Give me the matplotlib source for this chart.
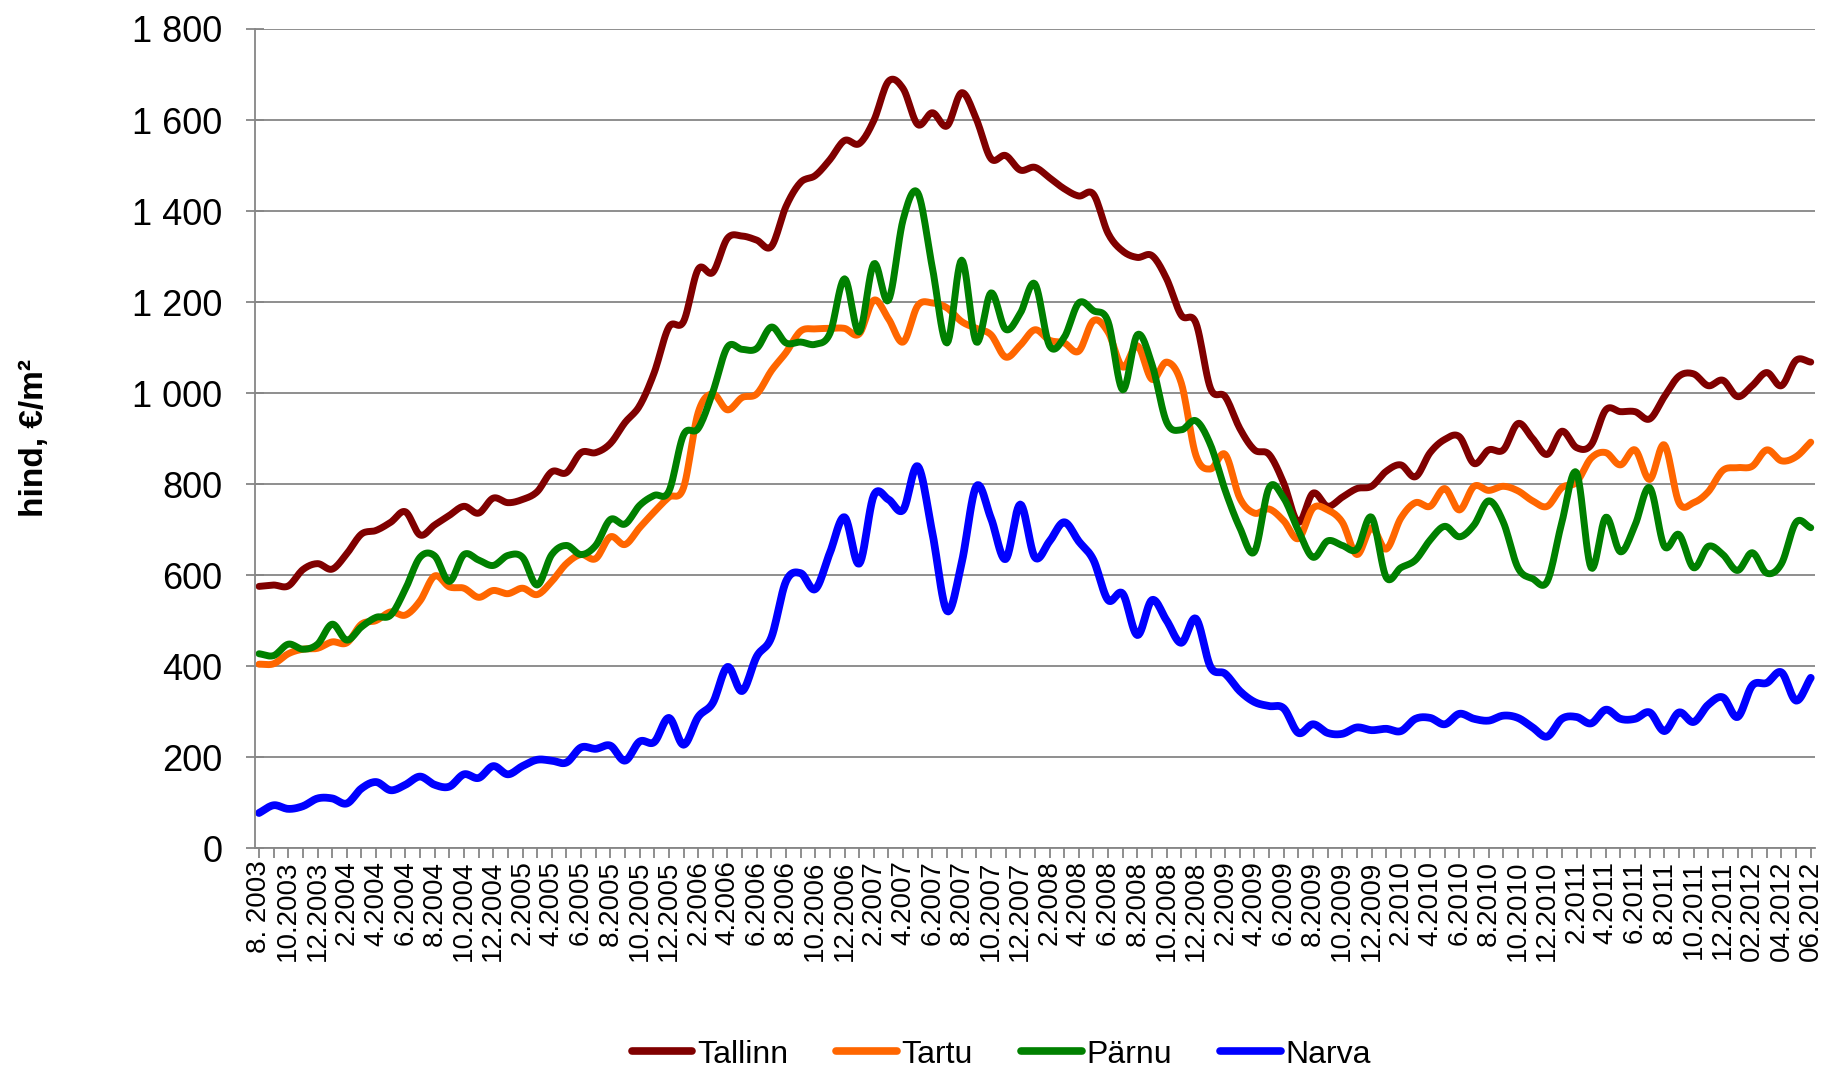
import numpy as np
import matplotlib
matplotlib.use("Agg")
import matplotlib.pyplot as plt

plt.rcParams['font.family'] = ['Liberation Sans', 'DejaVu Sans']

# kuu keskmised hinnad, 8.2003 - 06.2012
tallinn = [575, 578, 576, 612, 625, 613, 647, 690, 698, 716,
           739, 688, 710, 731, 751, 736, 769, 759, 766, 783,
           827, 825, 869, 869, 889, 935, 972, 1045, 1145, 1157,
           1272, 1265, 1340, 1345, 1336, 1322, 1410, 1463, 1478, 1513,
           1555, 1548, 1599, 1685, 1669, 1590, 1616, 1587, 1660, 1602,
           1515, 1522, 1490, 1496, 1473, 1449, 1433, 1437, 1351, 1312,
           1298, 1302, 1251, 1171, 1154, 1010, 992, 922, 875, 865,
           802, 716, 780, 751, 771, 790, 795, 828, 842, 816,
           869, 898, 904, 845, 875, 875, 933, 900, 865, 916,
           880, 886, 963, 959, 959, 943, 992, 1037, 1042, 1016,
           1028, 992, 1016, 1045, 1016, 1072, 1068]
tartu = [404, 405, 427, 437, 439, 453, 451, 492, 500, 519,
         512, 543, 598, 574, 571, 551, 566, 559, 571, 557,
         586, 625, 645, 636, 684, 667, 704, 739, 771, 792,
         957, 998, 963, 990, 998, 1049, 1089, 1136, 1141, 1142,
         1142, 1130, 1204, 1163, 1112, 1192, 1198, 1187, 1157, 1142,
         1128, 1079, 1105, 1139, 1116, 1110, 1092, 1159, 1134, 1057,
         1104, 1030, 1068, 1022, 863, 833, 865, 769, 736, 745,
         719, 680, 747, 743, 716, 645, 704, 657, 725, 759,
         751, 790, 743, 795, 786, 795, 785, 763, 751, 792,
         804, 857, 869, 842, 875, 810, 886, 759, 759, 783,
         830, 836, 839, 875, 851, 860, 892]
parnu = [427, 423, 448, 437, 448, 492, 457, 486, 507, 512,
         569, 639, 642, 586, 645, 633, 621, 643, 639, 578,
         645, 665, 645, 665, 722, 712, 753, 775, 784, 908,
         922, 1002, 1101, 1096, 1098, 1145, 1110, 1112, 1107, 1131,
         1251, 1134, 1284, 1204, 1381, 1440, 1275, 1110, 1292, 1112,
         1220, 1140, 1175, 1240, 1104, 1122, 1198, 1181, 1157, 1007,
         1128, 1063, 936, 919, 939, 886, 786, 704, 651, 792,
         769, 698, 639, 675, 665, 657, 727, 595, 616, 633,
         677, 707, 684, 710, 763, 716, 616, 592, 586, 716,
         825, 616, 727, 651, 710, 792, 663, 689, 616, 663,
         645, 610, 649, 604, 625, 716, 704]
narva = [77, 94, 86, 92, 109, 109, 98, 131, 145, 127,
         139, 157, 139, 135, 162, 154, 180, 162, 180, 194,
         192, 188, 221, 218, 225, 192, 234, 233, 286, 227,
         288, 319, 398, 345, 421, 463, 586, 604, 569, 649,
         727, 625, 775, 766, 743, 839, 692, 521, 627, 795,
         725, 635, 755, 639, 674, 716, 674, 633, 545, 559,
         468, 545, 500, 451, 504, 398, 383, 345, 321, 312,
         307, 253, 272, 253, 251, 265, 259, 262, 257, 284,
         286, 272, 295, 284, 280, 291, 286, 265, 245, 284,
         288, 274, 304, 284, 284, 298, 257, 298, 277, 315,
         331, 288, 357, 363, 386, 324, 374]

tick_labels = ["8. 2003", "10.2003", "12.2003",
               "2.2004", "4.2004", "6.2004", "8.2004", "10.2004", "12.2004",
               "2.2005", "4.2005", "6.2005", "8.2005", "10.2005", "12.2005",
               "2.2006", "4.2006", "6.2006", "8.2006", "10.2006", "12.2006",
               "2.2007", "4.2007", "6.2007", "8.2007", "10.2007", "12.2007",
               "2.2008", "4.2008", "6.2008", "8.2008", "10.2008", "12.2008",
               "2.2009", "4.2009", "6.2009", "8.2009", "10.2009", "12.2009",
               "2.2010", "4.2010", "6.2010", "8.2010", "10.2010", "12.2010",
               "2.2011", "4.2011", "6.2011", "8.2011", "10.2011", "12.2011",
               "02.2012", "04.2012", "06.2012"]

names = ["Tallinn", "Tartu", "Pärnu", "Narva"]
colors = ["#800000", "#FF6600", "#008000", "#0000FF"]


def smooth(y, n=12):
    # Catmull-Rom, similar to Excel smoothed line
    y = np.asarray(y, dtype=float)
    x = np.arange(len(y), dtype=float)
    px = np.concatenate([[2 * x[0] - x[1]], x, [2 * x[-1] - x[-2]]])
    py = np.concatenate([[2 * y[0] - y[1]], y, [2 * y[-1] - y[-2]]])
    t = np.linspace(0, 1, n, endpoint=False)
    xs, ys = [], []
    for i in range(1, len(px) - 2):
        for p, out in ((px, xs), (py, ys)):
            p0, p1, p2, p3 = p[i - 1], p[i], p[i + 1], p[i + 2]
            out.append(0.5 * (2 * p1 + (-p0 + p2) * t
                              + (2 * p0 - 5 * p1 + 4 * p2 - p3) * t ** 2
                              + (-p0 + 3 * p1 - 3 * p2 + p3) * t ** 3))
    xs.append([x[-1]])
    ys.append([y[-1]])
    return np.concatenate(xs), np.concatenate(ys)


fig = plt.figure(figsize=(18.27, 10.74), dpi=100)
ax = fig.add_axes([0.1396, 0.2104, 0.8539, 0.7626])

gray = "#868686"
for data, name, c in zip([tallinn, tartu, parnu, narva], names, colors):
    sx, sy = smooth(data)
    lw = 5.6 if name == "Narva" else 5.0
    ax.plot(sx, sy, color=c, lw=lw, label=name, solid_capstyle='round',
            solid_joinstyle='round')

ax.set_ylim(0, 1800)
ax.set_xlim(-0.27, 106.3)
ax.set_yticks(range(0, 1801, 200))
ax.set_yticklabels([f"{v:,}".replace(",", " ") for v in range(0, 1801, 200)],
                   fontsize=26)
ax.yaxis.grid(True, color=gray, lw=1.3)
ax.set_axisbelow(True)

n = len(tallinn)
ax.set_xticks(range(n))
ax.set_xticklabels([tick_labels[i // 2] if i % 2 == 0 else "" for i in range(n)],
                   rotation=90, fontsize=20)

for s in ["top", "right"]:
    ax.spines[s].set_visible(False)
for s in ["left", "bottom"]:
    ax.spines[s].set_color(gray)
    ax.spines[s].set_linewidth(1.3)
ax.tick_params(axis='y', direction='inout', length=13, width=1.3, color=gray, pad=17)
ax.tick_params(axis='x', direction='out', length=7, width=1.3, color=gray, pad=2)

fig.text(0.019, 0.592, "hind, €/m²", rotation=90, fontsize=24, fontweight='bold',
         ha='center', va='center')

leg = fig.legend(loc='center', bbox_to_anchor=(0.548, 0.018), ncol=4, frameon=False,
                 fontsize=23, handlelength=1.9, handletextpad=0.15, columnspacing=1.5)
for h in leg.get_lines():
    h.set_linewidth(5.5)

fig.savefig("out.png", dpi=100)
